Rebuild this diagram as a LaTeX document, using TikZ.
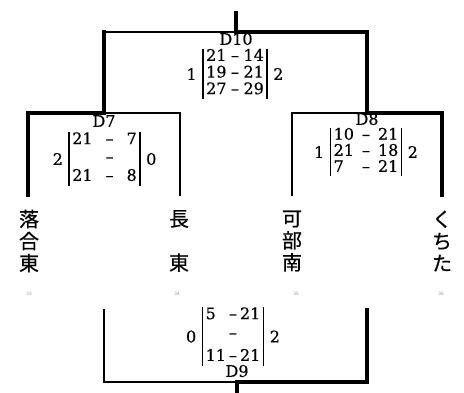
\documentclass[tikz,border=0pt]{standalone}
\usepackage{fontspec}
\setmainfont{DejaVu Serif}[FakeBold=0.4]
\newfontfamily\jp{Noto Sans CJK JP}[FakeBold=0.6]
\usetikzlibrary{positioning}
\setlength{\tabcolsep}{3pt}
\setlength{\arrayrulewidth}{1.5pt}

\begin{document}
\begin{tikzpicture}[x=1pt,y=-1pt, line cap=rect,
    win/.style={line width=3.2pt},
    lose/.style={line width=1.5pt},
    matchlbl/.style={font=\fontsize{16}{16}\selectfont,inner sep=0pt},
    score/.style={font=\fontsize{16}{16}\selectfont,inner sep=0pt},
    every label/.style={font=\fontsize{16}{16}\selectfont,inner sep=0pt},
    label distance=6pt,
    team/.style={font=\jp\fontsize{20}{22}\selectfont,align=center,inner sep=0pt},
    seed/.style={font=\sffamily\fontsize{5}{6}\selectfont,text=black!40,inner sep=0pt}]
              \useasboundingbox (0,0) rectangle (464,392);

              \coordinate (top) at (236,13);
              \coordinate (m10) at (236,32);
              \coordinate (l10) at (104,32);
              \coordinate (r10) at (367,32);
              \coordinate (m7) at (104,113);
              \coordinate (l7) at (28,113);
              \coordinate (r7) at (180,113);
              \coordinate (m8) at (367,113);
              \coordinate (l8) at (292,113);
              \coordinate (r8) at (442,113);
              \coordinate (e33) at (28,195);
              \coordinate (e34) at (180,195);
              \coordinate (e35) at (292,195);
              \coordinate (e36) at (442,195);

              \coordinate (l9t) at (104,310);
              \coordinate (r9t) at (367,310);
              \coordinate (l9) at (104,382);
              \coordinate (r9) at (367,382);
              \coordinate (m9) at (237,382);
              \coordinate (bot) at (237,394);

              \draw[win] (e33) -- (l7) -- (m7) -- (l10);
              \draw[lose] (m7) -- (r7) -- (e34);
              \draw[lose] (l10) -- (m10);
              \draw[win] (top) -- (m10) -- (r10) -- (m8) -- (r8) -- (e36);
              \draw[lose] (e35) -- (l8) -- (m8);
              \draw[lose] (l9t) -- (l9) -- (m9);
              \draw[win] (r9t) -- (r9) -- (m9) -- (bot);

              \node[matchlbl] (D10) at (236,39) {D10};
              \node[score,label=left:1,label=right:2] (s10) at (235,74) {\begin{tabular}{|l@{\hspace{4.5pt}}c@{\hspace{4.5pt}}r|}21&–&14\\19&–&21\\27&–&29\end{tabular}};
              \node[matchlbl] (D7) at (104,121) {D7};
              \node[score,label=left:2,label=right:0] (s7) at (104.5,159) {\begin{tabular}{|l@{\hspace{13pt}}c@{\hspace{13pt}}r|}21&–&7\\[2pt]&–&\\[2pt]21&–&8\end{tabular}};
              \node[matchlbl] (D8) at (367,119) {D8};
              \node[score,label=left:1,label=right:2] (s8) at (366,152) {\def\arraystretch{0.88}\begin{tabular}{|l@{\hspace{8pt}}c@{\hspace{8pt}}r|}10&–&21\\21&–&18\\7&–&21\end{tabular}};
              \node[matchlbl] (D9) at (237,371) {D9};
              \node[score,label=left:0,label=right:2] (s9) at (233,336.5) {\begin{tabular}{|l@{\hspace{3pt}}c@{\hspace{3pt}}r|}5&–&21\\[3pt]&–&\\[6pt]11&–&21\end{tabular}};

              \node[team] (t33) at (29,241) {落\\合\\東};
              \node[team] (t34) at (179,241) {長\\　\\東};
              \node[team] (t35) at (292,241) {可\\部\\南};
              \node[team] (t36) at (442,241) {く\\ち\\た};
              \node[seed] (n33) at (29,294) {33};
              \node[seed] (n34) at (177,294) {34};
              \node[seed] (n35) at (296,294) {35};
              \node[seed] (n36) at (441,294) {36};
            \end{tikzpicture}
\end{document}
